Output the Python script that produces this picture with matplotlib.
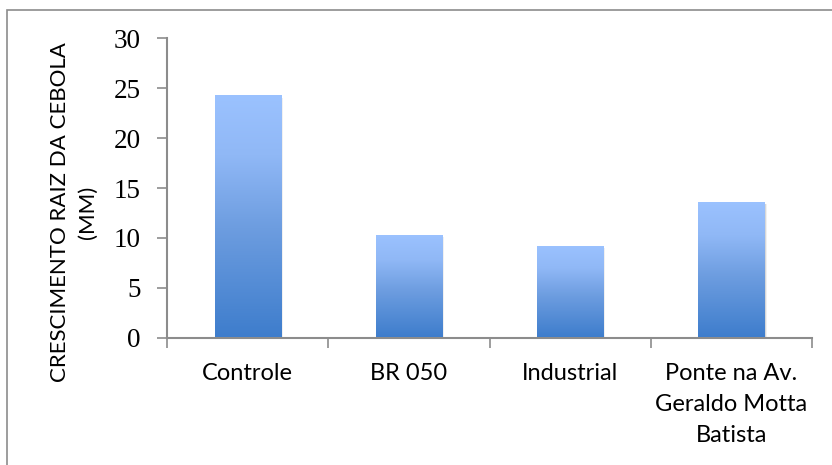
import matplotlib
matplotlib.use("Agg")
import matplotlib.pyplot as plt
import numpy as np
from matplotlib.patches import Rectangle
from matplotlib.colors import LinearSegmentedColormap

categories = ["Controle", "BR 050", "Industrial", "Ponte na Av.\nGeraldo Motta\nBatista"]
values = [24.3, 10.3, 9.2, 13.6]
yticks = [0, 5, 10, 15, 20, 25, 30]
ylabel = "CRESCIMENTO RAIZ DA CEBOLA\n(MM)"

fig = plt.figure(figsize=(8.32, 4.65), dpi=100)
fig.patch.set_facecolor("white")

# outer frame (extends beyond image on right/bottom)
fig.patches.append(Rectangle((7/832, -0.05), 1.0, 1 - 10/465 + 0.05,
                             transform=fig.transFigure, fill=False,
                             edgecolor="#8c8c8c", linewidth=1.2))

ax = fig.add_axes([167/832, 1 - 337.5/465, (812 - 167)/832, (337.5 - 38.5)/465])
ax.set_xlim(-0.5, len(categories) - 0.5)
ax.set_ylim(0, 30)

cmap = LinearSegmentedColormap.from_list(
    "g", [(0.0, "#3E7DCC"), (0.45, "#6D9DE0"), (0.75, "#90B8F6"), (1.0, "#9BC2FF")])
grad = np.linspace(0, 1, 256).reshape(-1, 1)

width = 0.41
bars = ax.bar(range(len(values)), values, width=width, color="none", edgecolor="none", zorder=3)
for b in bars:
    x0, y0 = b.get_x(), b.get_y()
    w, h = b.get_width(), b.get_height()
    # soft shadow
    for k, a in [(0.012, 0.10), (0.022, 0.06)]:
        sh = Rectangle((x0 + k * 0.4, y0 - 0.15), w + k * 0.2, h - 0.1,
                       facecolor="#000000", alpha=a, edgecolor="none", zorder=2)
        ax.add_patch(sh)
    im = ax.imshow(grad, extent=[x0, x0 + w, y0, y0 + h], origin="lower",
                   cmap=cmap, aspect="auto", zorder=3)
    im.set_clip_path(b)
ax.set_xlim(-0.5, len(categories) - 0.5)
ax.set_ylim(0, 30)

for s in ["top", "right"]:
    ax.spines[s].set_visible(False)
for s in ["left", "bottom"]:
    ax.spines[s].set_color("#8c8c8c")
    ax.spines[s].set_linewidth(1.5)

ax.set_yticks(yticks)
ax.set_yticklabels([str(t) for t in yticks], fontfamily="Liberation Serif", fontsize=19.5)
ax.tick_params(axis="y", direction="out", length=7, width=1.2, color="#8c8c8c", pad=12)

ax.set_xticks(range(len(categories)))
ax.set_xticklabels(categories, fontfamily="Lato", fontsize=17, linespacing=1.6)
ax.tick_params(axis="x", length=0, pad=18)
ax.set_xticks(np.arange(-0.5, len(categories) + 0.5, 1), minor=True)
ax.tick_params(axis="x", which="minor", direction="out", length=7, width=1.2, color="#8c8c8c")

fig.text(74/832, 1 - 212/465, ylabel, rotation=90, ha="center", va="center",
         fontfamily="Lato", fontsize=16, linespacing=1.45, multialignment="center")

fig.savefig("out.png", dpi=100)
